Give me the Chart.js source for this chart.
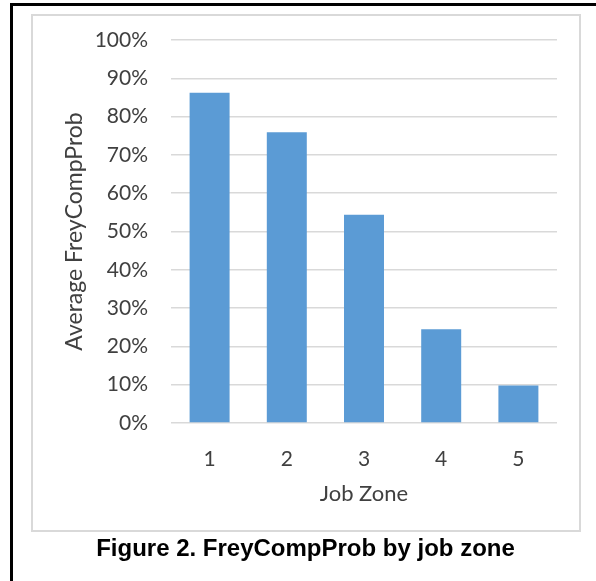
<!DOCTYPE html>
<html>
<head>
<meta charset="utf-8">
<script src="https://cdn.jsdelivr.net/npm/chart.js@4.4.0/dist/chart.umd.min.js"></script>
<style>
  html, body { margin: 0; padding: 0; background: #fff; }
  body { width: 596px; height: 581px; position: relative; overflow: hidden; }
  #outer {
    position: absolute; left: 10px; top: 3px; width: 700px; height: 700px;
    border-left: 3px solid #000; border-top: 3px solid #000;
  }
  #frame {
    position: absolute; left: 31px; top: 14px; width: 550px; height: 518px;
    box-sizing: border-box; border: 2px solid #d9d9d9; background: #fff;
  }
  #chart { position: absolute; left: 0; top: 0; }
  #caption {
    position: absolute; left: 0; width: 611px; top: 534px; text-align: center;
    font: bold 24px "Liberation Sans", Arial, sans-serif; line-height: 28px; color: #000;
  }
</style>
</head>
<body>
<div id="outer"></div>
<div id="frame"></div>
<canvas id="chart" width="596" height="581"></canvas>
<div id="caption">Figure 2. FreyCompProb by job zone</div>
<script>
// job zones and average FreyCompProb (percent)
const zones = ['1', '2', '3', '4', '5'];
const avgProb = [86.2, 75.9, 54.4, 24.5, 9.8];
const yTickLabels = ['0%', '10%', '20%', '30%', '40%', '50%', '60%', '70%', '80%', '90%', '100%'];

const textColor = '#404040';
const tickFont = { family: 'Lato', size: 21 };
const xTitleFont = { family: 'Lato', size: 22 };
const yTitleFont = { family: 'Lato', size: 23 };

new Chart(document.getElementById('chart'), {
  type: 'bar',
  data: {
    labels: zones,
    datasets: [{
      label: 'Average FreyCompProb',
      data: avgProb,
      backgroundColor: '#5b9bd5',
      borderWidth: 0,
      categoryPercentage: 1,
      barPercentage: 0.518,
    }],
  },
  options: {
    responsive: false,
    animation: false,
    layout: { padding: { left: 0, right: 39, top: 40, bottom: 67 } },
    plugins: { legend: { display: false }, tooltip: { enabled: false } },
    scales: {
      x: {
        grid: { display: false },
        border: { display: false },
        ticks: { color: textColor, font: tickFont, padding: 16 },
        title: { display: true, text: 'Job Zone', color: textColor, font: xTitleFont, padding: { top: 0, bottom: 7 } },
        afterFit: (s) => { s.height = 91; },
      },
      y: {
        min: 0,
        max: 100,
        ticks: {
          stepSize: 10,
          color: textColor,
          font: tickFont,
          padding: 23,
          callback: (v, i) => yTickLabels[i],
        },
        grid: { color: '#d9d9d9', lineWidth: 1.5, drawTicks: false },
        border: { display: false },
        title: { display: true, text: 'Average FreyCompProb', color: textColor, font: yTitleFont, padding: { top: 61, bottom: 0 } },
        afterFit: (s) => { s.width = 171; },
      },
    },
  },
});
</script>
</body>
</html>
